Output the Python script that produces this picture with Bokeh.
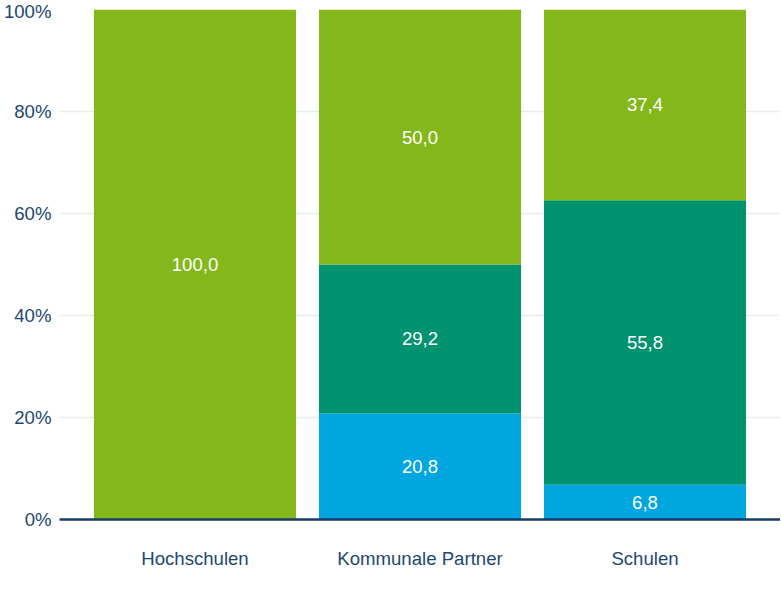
from bokeh.plotting import figure
from bokeh.models import ColumnDataSource, FixedTicker, Legend, LegendItem, FactorRange
from bokeh.embed import file_html
from bokeh.resources import INLINE
from bokeh.core.properties import value

categories = ["Hochschulen", "Kommunale Partner", "Schulen"]
series = ["Ja", "Nein", "Weiß nicht"]
ja = [100.0, 50.0, 37.4]
nein = [0.0, 29.2, 55.8]
weiss = [0.0, 20.8, 6.8]
y_ticks = [0, 20, 40, 60, 80, 100]
y_tick_labels = ["0%", "20%", "40%", "60%", "80%", "100%"]
colors = {"Ja": "#84b81a", "Nein": "#00936f", "Weiß nicht": "#00a6e0"}

FONT = "Liberation Sans"
NAVY = "#1d4770"
FS = "18.6px"

src = ColumnDataSource(dict(cat=categories, weiss=weiss, nein=nein, ja=ja))

p = figure(x_range=FactorRange(*categories, range_padding=0.068, range_padding_units="percent"),
           y_range=(0, 100), frame_width=721, frame_height=510,
           output_backend="svg", toolbar_location=None,
           min_border_left=50, min_border_right=0, min_border_top=9, min_border_bottom=0)
p.outline_line_color = None
p.background_fill_color = "white"
p.border_fill_color = "white"

# stack bottom-to-top: Weiß nicht, Nein, Ja
renderers = p.vbar_stack(["weiss", "nein", "ja"], x="cat", width=0.898, source=src,
                         color=[colors["Weiß nicht"], colors["Nein"], colors["Ja"]],
                         line_color=None)

# labels
lx, ly, lt = [], [], []
for i, c in enumerate(categories):
    base = 0.0
    for v in (weiss[i], nein[i], ja[i]):
        if v > 0:
            lx.append(c)
            ly.append(base + v / 2)
            lt.append(f"{v:.1f}".replace(".", ","))
        base += v
lsrc = ColumnDataSource(dict(x=lx, y=ly, t=lt))
p.text(x="x", y="y", text="t", source=lsrc, text_color="white",
       text_font=value(FONT), text_font_size=FS,
       text_align="center", text_baseline="middle")

# axes
p.yaxis.ticker = FixedTicker(ticks=y_ticks)
p.yaxis.major_label_overrides = {t: l for t, l in zip(y_ticks, y_tick_labels)}
p.yaxis.axis_line_color = None
p.yaxis.major_tick_line_color = None
p.yaxis.minor_tick_line_color = None
p.yaxis.major_tick_out = 0
p.yaxis.major_tick_in = 0
p.yaxis.major_label_text_font = FONT
p.yaxis.major_label_text_font_size = FS
p.yaxis.major_label_text_color = NAVY
p.yaxis.major_label_standoff = 8

p.xaxis.axis_line_color = "#163d66"
p.xaxis.axis_line_width = 2.5
p.xaxis.major_tick_line_color = None
p.xaxis.minor_tick_line_color = None
p.xaxis.major_tick_out = 0
p.xaxis.major_tick_in = 0
p.xaxis.major_label_text_font = FONT
p.xaxis.major_label_text_font_size = FS
p.xaxis.major_label_text_color = NAVY
p.xaxis.major_label_standoff = 28

p.xgrid.grid_line_color = None
p.ygrid.grid_line_color = "#e8ecf1"
p.ygrid.grid_line_width = 1.5
p.ygrid.ticker = FixedTicker(ticks=y_ticks)

legend = Legend(items=[LegendItem(label=series[0], renderers=[renderers[2]]),
                       LegendItem(label=series[1], renderers=[renderers[1]]),
                       LegendItem(label=series[2], renderers=[renderers[0]])],
                orientation="horizontal", location="center",
                label_text_font=FONT, label_text_font_size="15px",
                label_text_color=NAVY, glyph_width=13, glyph_height=13,
                spacing=12, label_standoff=12, border_line_color=None,
                background_fill_alpha=0, margin=0, padding=2)
p.add_layout(legend, "below")

open("out.html", "w").write(file_html(p, INLINE))
